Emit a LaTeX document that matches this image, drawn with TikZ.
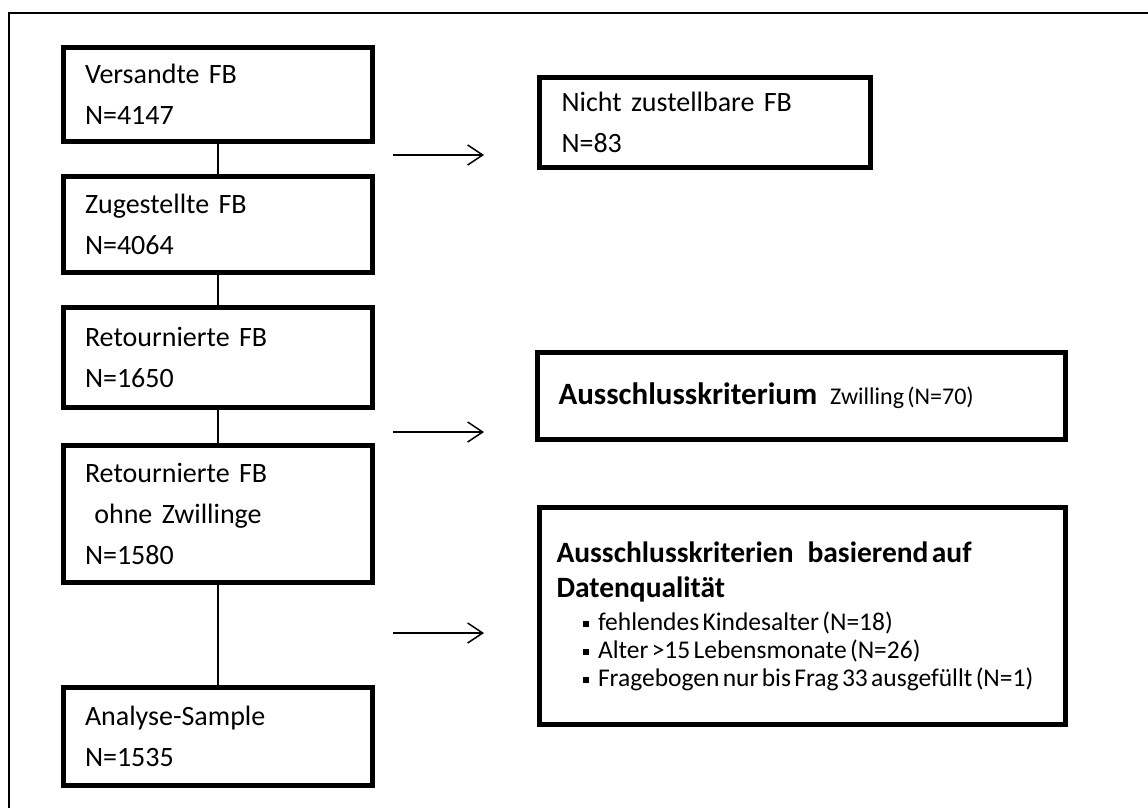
\documentclass[tikz,border=0pt]{standalone}
\usepackage{fontspec}
\setmainfont{Carlito}
\usetikzlibrary{positioning}
\usetikzlibrary{arrows.meta}

\newcommand{\sqbul}{\rule[3pt]{6.5pt}{6.5pt}}

\begin{document}
\begin{tikzpicture}[x=1pt, y=-1pt,
  stepbox/.style={rectangle, draw=black, line width=5pt, minimum width=309pt, text width=266pt, inner xsep=21.5pt, align=left, font=\fontsize{28}{41}\selectfont},
  sidebox/.style={rectangle, draw=black, line width=5pt, align=left},
  pfeil/.style={-{Straight Barb[length=15pt,width=20pt]}, line width=1.5pt},
  strich/.style={line width=1.5pt}]
    \useasboundingbox (0,0) rectangle (1148,808);
    \draw[line width=2.5pt] (9,808) -- (9,13) -- (1148,13);

    \node[stepbox, minimum height=94pt] (versandt) at (218,94.5) {Versandte FB\\N=4147};
    \node[stepbox, minimum height=96pt] (zugestellt) [below=30pt of versandt] {Zugestellte FB\\N=4064};
    \node[stepbox, minimum height=100pt] (retour) [below=30pt of zugestellt] {Retournierte FB\\N=1650};
    \node[stepbox, minimum height=137pt] (ohnezw) [below=33pt of retour] {Retournierte FB\\\ ohne Zwillinge\\N=1580};
    \node[stepbox, minimum height=98pt] (analyse) [below=100pt of ohnezw] {Analyse-Sample\\N=1535};

    \node[sidebox, minimum width=331pt, minimum height=90pt, text width=287pt, inner xsep=22pt, font=\fontsize{28}{41}\selectfont] (nicht) at (705,122) {Nicht zustellbare FB\\N=83};
    \node[sidebox, minimum width=528pt, minimum height=87pt, text width=486pt, inner xsep=21pt] (zwilling) at (801.5,396) {\fontsize{31}{36}\selectfont\bfseries Ausschlusskriterium\hspace{13pt}{\mdseries\fontsize{24}{28}\selectfont Zwilling (N=70)}};
    \node[sidebox, minimum width=526pt, minimum height=217pt, text width=492pt, inner xsep=17pt] (qualitaet) at (802.5,616) {%
      {\fontsize{29.5}{35}\selectfont\bfseries Ausschlusskriterien\hspace{14pt}basierend auf\\Datenqualität\par}\vspace{5pt}
      {\fontsize{25.5}{28}\selectfont
      \hspace*{26pt}\sqbul\hspace{9pt}fehlendes Kindesalter (N=18)\\
      \hspace*{26pt}\sqbul\hspace{9pt}Alter >15 Lebensmonate (N=26)\\
      \hspace*{26pt}\sqbul\hspace{9pt}Fragebogen nur bis Frag 33 ausgefüllt (N=1)\par}};

    \path[strich] (versandt) edge (zugestellt);
    \path[strich] (zugestellt) edge (retour);
    \path[strich] (retour) edge (ohnezw);
    \path[strich] (ohnezw) edge (analyse);

    \coordinate (p1a) at (393,155);
    \coordinate (p1b) at (484,155);
    \coordinate (p2a) at (393,432);
    \coordinate (p2b) at (484,432);
    \coordinate (p3a) at (393,633);
    \coordinate (p3b) at (484,633);
    \draw[pfeil] (p1a) -- (p1b);
    \draw[pfeil] (p2a) -- (p2b);
    \draw[pfeil] (p3a) -- (p3b);
\end{tikzpicture}
\end{document}
